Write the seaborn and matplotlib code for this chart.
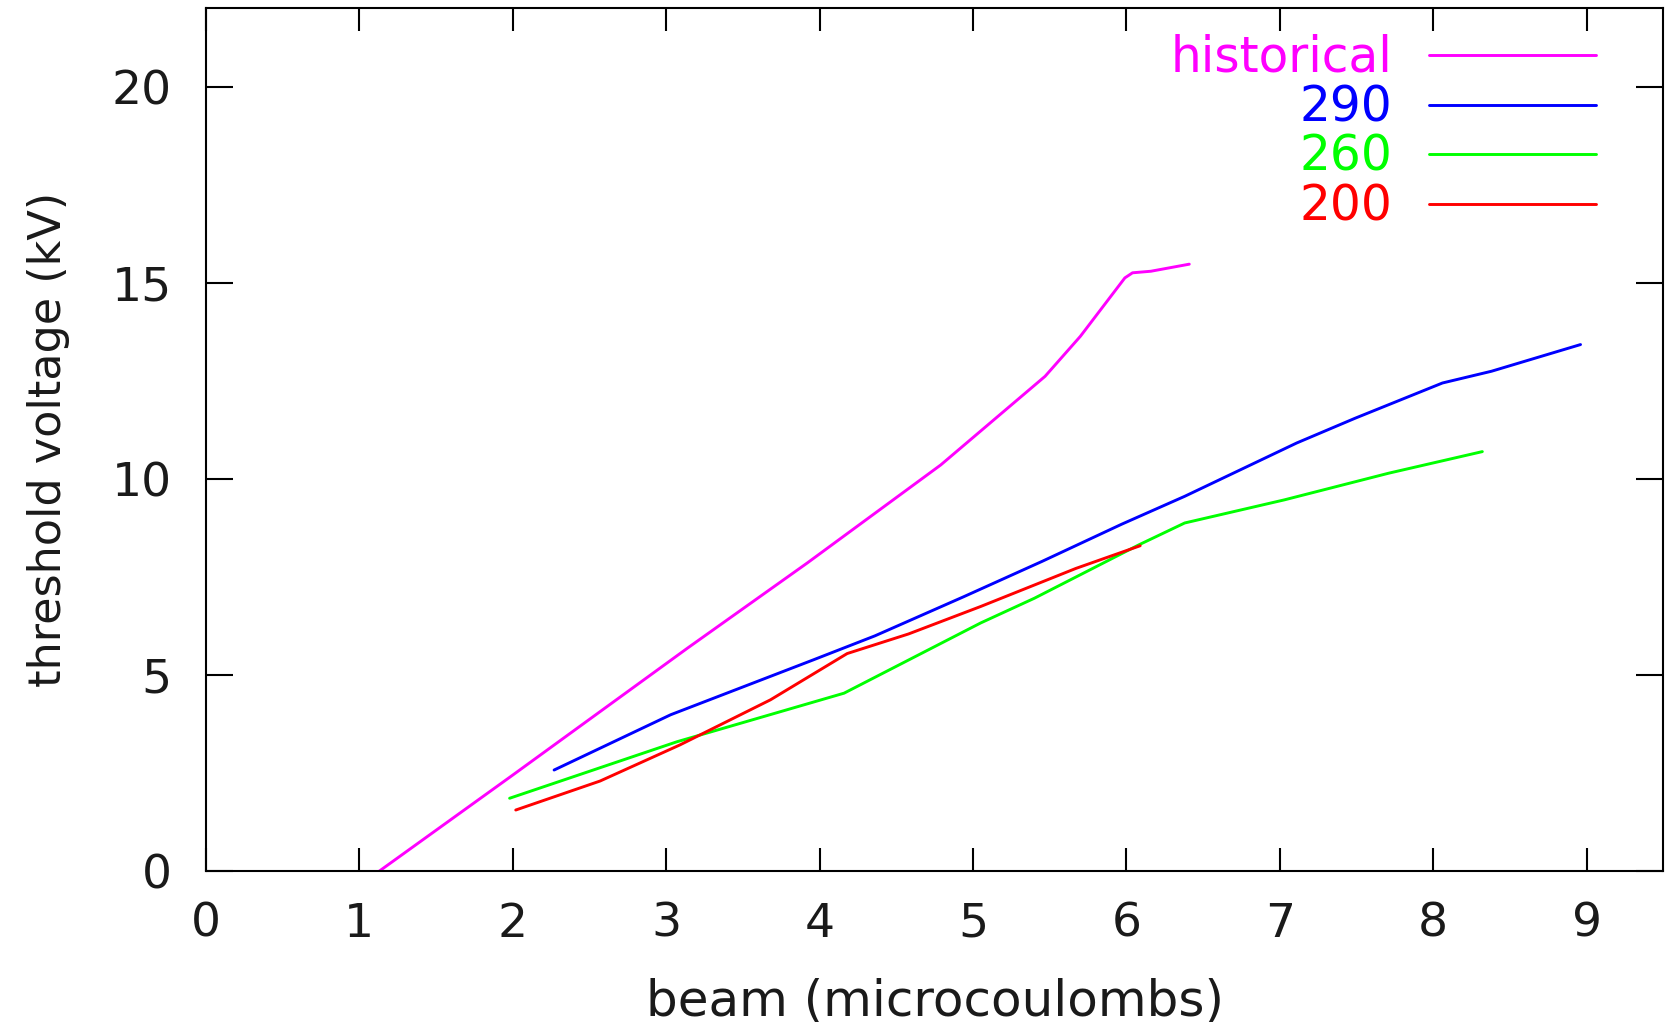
import matplotlib
matplotlib.use("Agg")
import matplotlib.pyplot as plt
import numpy as np
import pandas as pd
import seaborn as sns

# ---- data -------------------------------------------------------------
series_names = ["historical", "290", "260", "200"]
series_colors = ["#ff00ff", "#0000ff", "#00ff00", "#ff0000"]

historical_beam = [1.13, 2.0, 3.14, 3.92, 4.79, 5.47, 5.70, 5.99, 6.04, 6.16, 6.41]
historical_kv = [0.0, 2.45, 5.69, 7.86, 10.36, 12.62, 13.64, 15.13, 15.26, 15.30, 15.48]

b290_beam = [2.27, 3.03, 3.96, 4.36, 4.94, 5.45, 5.97, 6.38, 7.11, 7.49, 8.06, 8.38, 8.96]
b290_kv = [2.58, 3.99, 5.39, 6.0, 7.0, 7.9, 8.85, 9.56, 10.92, 11.55, 12.45, 12.75, 13.43]

b260_beam = [1.98, 3.07, 4.16, 5.05, 5.40, 6.08, 6.38, 7.03, 7.71, 8.32]
b260_kv = [1.86, 3.30, 4.54, 6.33, 6.96, 8.32, 8.88, 9.47, 10.15, 10.70]

b200_beam = [2.02, 2.57, 3.09, 3.68, 4.18, 4.58, 5.05, 5.67, 6.09]
b200_kv = [1.56, 2.3, 3.22, 4.37, 5.55, 6.05, 6.75, 7.72, 8.30]

x_ticks = [0, 1, 2, 3, 4, 5, 6, 7, 8, 9]
y_ticks = [0, 5, 10, 15, 20]

beams = [historical_beam, b290_beam, b260_beam, b200_beam]
kvs = [historical_kv, b290_kv, b260_kv, b200_kv]

df = pd.concat(
    [pd.DataFrame({"beam": b, "kv": v, "series": n}) for n, b, v in zip(series_names, beams, kvs)],
    ignore_index=True,
)

# ---- style ------------------------------------------------------------
sns.set_theme(style="ticks")
plt.rcParams["font.family"] = ["DejaVu Sans"]
ink = "#1a1a1a"

fig = plt.figure(figsize=(16.72, 10.22), dpi=100)
W, H = 1672.0, 1022.0
ax_l, ax_r, ax_t, ax_b = 205.8, 1663.4, 8.5, 871.2
ax = fig.add_axes([ax_l / W, 1 - ax_b / H, (ax_r - ax_l) / W, (ax_b - ax_t) / H])

sns.lineplot(
    data=df, x="beam", y="kv", hue="series", hue_order=series_names,
    palette=series_colors, sort=False, estimator=None, legend=False,
    linewidth=2.1, ax=ax,
)

ax.set_xlim(0, 9.5)
ax.set_ylim(0, 22)
ax.set_xticks(x_ticks)
ax.set_yticks(y_ticks)
ax.set_xticklabels([str(t) for t in x_ticks])
ax.set_yticklabels([str(t) for t in y_ticks])

for s in ax.spines.values():
    s.set_visible(True)
    s.set_linewidth(1.5)
    s.set_color("black")

ax.tick_params(direction="in", top=True, right=True, width=1.5, color="black",
               labelsize=34, labelcolor=ink)
ax.tick_params(axis="x", length=16.5, pad=22)
ax.tick_params(axis="y", length=19.5, pad=24.5)

ax.set_xlabel("beam (microcoulombs)", fontsize=36, color=ink)
ax.set_ylabel("threshold voltage (kV)", fontsize=32, color=ink)
ax.xaxis.set_label_coords(0.5, (ax_b - 977) / (ax_b - ax_t))
ax.yaxis.set_label_coords((70 - ax_l) / (ax_r - ax_l), 0.5)

# ---- key: right-aligned labels followed by line samples ----------------
row_line_y = [55, 105, 154.3, 204]
text_right_x = 1392
sample_x0, sample_x1 = 1428.5, 1595.6


def to_axes(px, py):
    return (px - ax_l) / (ax_r - ax_l), (ax_b - py) / (ax_b - ax_t)


for name, color, ly in zip(series_names, series_colors, row_line_y):
    tx, ty = to_axes(text_right_x, ly + 16.3)
    ax.text(tx, ty, name, transform=ax.transAxes, ha="right", va="baseline",
            color=color, fontsize=35)
    x0, yy = to_axes(sample_x0, ly)
    x1, _ = to_axes(sample_x1, ly)
    ax.plot([x0, x1], [yy, yy], transform=ax.transAxes, color=color,
            linewidth=2.1, clip_on=False)

fig.savefig("out.png", dpi=100, facecolor="white")
